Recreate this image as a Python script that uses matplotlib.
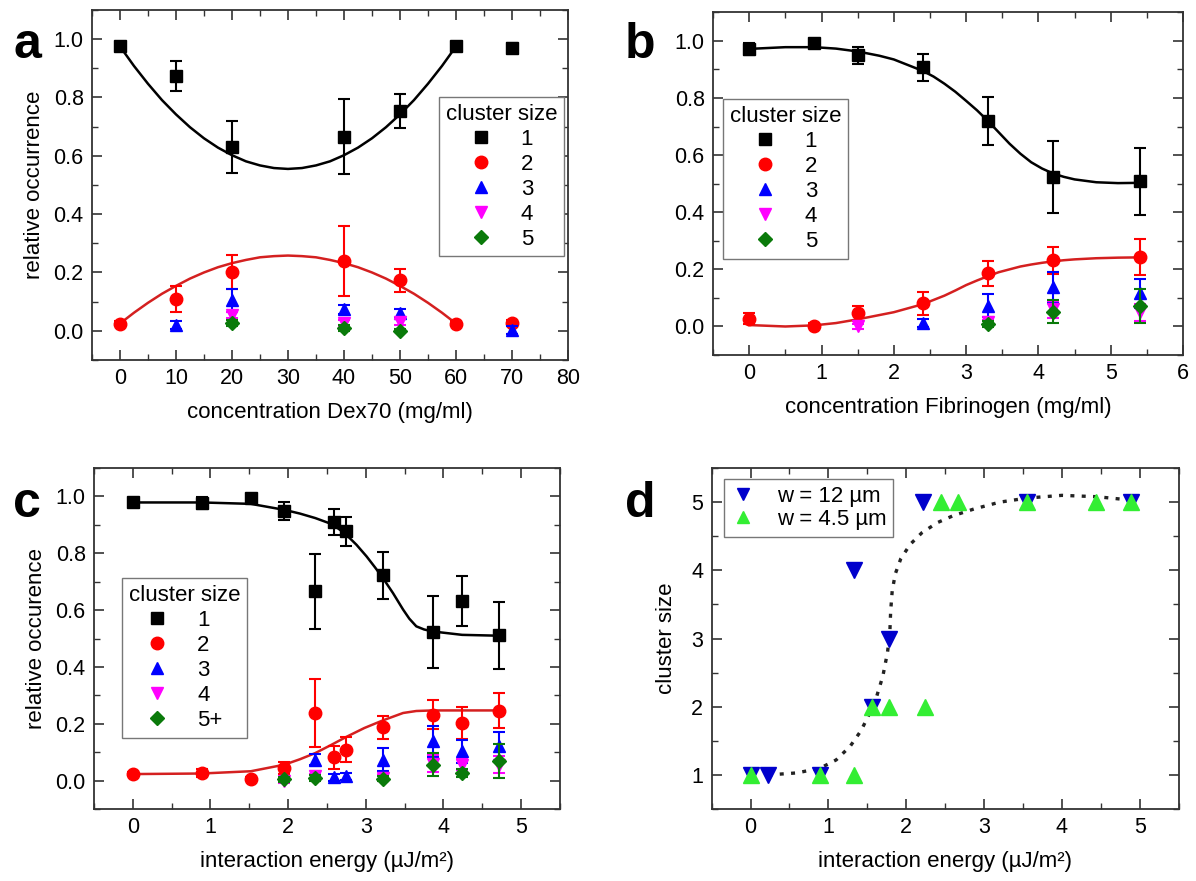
import numpy as np
import matplotlib.pyplot as plt
from matplotlib.ticker import MultipleLocator

plt.rcParams['font.family'] = ['Liberation Sans', 'DejaVu Sans']
plt.rcParams['axes.edgecolor'] = '#333333'
plt.rcParams['axes.linewidth'] = 1.3

#===== panel a: Dex70
dex_x1 = [0, 10, 20, 40, 50, 60, 70]
dex_y1 = [0.975, 0.874, 0.630, 0.666, 0.753, 0.975, 0.970]
dex_e1 = [0.01, 0.052, 0.088, 0.13, 0.058, 0.008, 0.015]
dex_x2 = [0, 10, 20, 40, 50, 60, 70]
dex_y2 = [0.024, 0.11, 0.201, 0.24, 0.173, 0.024, 0.026]
dex_e2 = [0.008, 0.045, 0.058, 0.12, 0.04, 0.008, 0.01]
dex_x3 = [10, 20, 40, 50, 70]
dex_y3 = [0.02, 0.104, 0.074, 0.06, 0.003]
dex_e3 = [0.015, 0.04, 0.015, 0.015, 0.015]
dex_x4 = [20, 40, 50]
dex_y4 = [0.055, 0.026, 0.029]
dex_e4 = [0.01, 0.012, 0.01]
dex_x5 = [20, 40, 50]
dex_y5 = [0.026, 0.011, 0.0]
dex_e5 = [0.01, 0.01, 0.005]
# fit curves
dex_fit_x = [0, 2.5, 5, 7.5, 10, 12.5, 15, 17.5, 20, 22.5, 25, 27.5, 30,
             32.5, 35, 37.5, 40, 42.5, 45, 47.5, 50, 52.5, 55, 57.5, 60]
dex_fit1 = [0.975, 0.908, 0.847, 0.791, 0.742, 0.698, 0.660, 0.628, 0.602, 0.581, 0.567, 0.558, 0.555,
            0.558, 0.567, 0.581, 0.602, 0.628, 0.660, 0.698, 0.742, 0.791, 0.847, 0.908, 0.975]
dex_fit2 = [0.025, 0.062, 0.096, 0.127, 0.154, 0.179, 0.200, 0.218, 0.232, 0.243, 0.252, 0.256, 0.258,
            0.256, 0.252, 0.243, 0.232, 0.218, 0.200, 0.179, 0.154, 0.127, 0.096, 0.062, 0.025]

#===== panel b: Fibrinogen
fib_x = [0, 0.9, 1.5, 2.4, 3.3, 4.2, 5.4]
fib_y1 = [0.972, 0.992, 0.949, 0.908, 0.719, 0.522, 0.508]
fib_e1 = [0.02, 0.01, 0.03, 0.047, 0.084, 0.126, 0.116]
fib_y2 = [0.027, 0.003, 0.046, 0.081, 0.186, 0.232, 0.244]
fib_e2 = [0.02, 0.008, 0.027, 0.04, 0.043, 0.048, 0.063]
fib_x3 = [2.4, 3.3, 4.2, 5.4]
fib_y3 = [0.012, 0.072, 0.137, 0.116]
fib_e3 = [0.015, 0.04, 0.055, 0.05]
fib_x4 = [1.5, 3.3, 4.2, 5.4]
fib_y4 = [0.0, 0.014, 0.06, 0.05]
fib_e4 = [0.01, 0.01, 0.03, 0.03]
fib_x5 = [3.3, 4.2, 5.4]
fib_y5 = [0.009, 0.052, 0.072]
fib_e5 = [0.01, 0.04, 0.06]
fib_fit_x = [0, 0.5, 0.9, 1.2, 1.5, 1.8, 2.0, 2.2, 2.4, 2.55, 2.7, 2.85, 3.0, 3.15, 3.3, 3.45,
             3.6, 3.75, 3.9, 4.05, 4.2, 4.35, 4.5, 4.8, 5.1, 5.4]
fib_fit1 = [0.972, 0.978, 0.978, 0.973, 0.963, 0.948, 0.935, 0.915, 0.895, 0.875, 0.85, 0.822,
            0.79, 0.757, 0.72, 0.68, 0.64, 0.605, 0.575, 0.553, 0.536, 0.524, 0.515, 0.505, 0.502, 0.503]
fib_fit2 = [0.005, 0.0, 0.004, 0.012, 0.025, 0.04, 0.05, 0.064, 0.078, 0.093, 0.108, 0.126,
            0.145, 0.161, 0.176, 0.19, 0.2, 0.21, 0.217, 0.223, 0.228, 0.232, 0.235, 0.239, 0.241, 0.242]

#===== panel c: interaction energy
ie_x = [0, 0.887, 1.52, 1.95, 2.35, 2.59, 2.75, 3.22, 3.86, 4.24, 4.71]
ie_y1 = [0.979, 0.977, 0.994, 0.95, 0.666, 0.91, 0.877, 0.722, 0.522, 0.631, 0.511]
ie_e1 = [0.01, 0.02, 0.01, 0.031, 0.131, 0.047, 0.052, 0.084, 0.127, 0.088, 0.117]
ie_y2 = [0.023, 0.027, 0.006, 0.045, 0.238, 0.082, 0.109, 0.188, 0.232, 0.203, 0.246]
ie_e2 = [0.008, 0.015, 0.008, 0.02, 0.12, 0.04, 0.045, 0.04, 0.05, 0.055, 0.062]
ie_x3 = [2.35, 2.59, 2.75, 3.22, 3.86, 4.24, 4.71]
ie_y3 = [0.074, 0.012, 0.015, 0.074, 0.138, 0.103, 0.121]
ie_e3 = [0.02, 0.012, 0.012, 0.04, 0.055, 0.04, 0.05]
ie_x4 = [1.95, 2.35, 3.22, 3.86, 4.24, 4.71]
ie_y4 = [0.0, 0.015, 0.009, 0.06, 0.056, 0.056]
ie_e4 = [0.01, 0.01, 0.01, 0.03, 0.02, 0.03]
ie_x5 = [1.95, 2.35, 3.22, 3.86, 4.24, 4.71]
ie_y5 = [0.004, 0.01, 0.007, 0.056, 0.027, 0.068]
ie_e5 = [0.008, 0.01, 0.01, 0.04, 0.015, 0.06]
ie_fit_x = [0, 0.887, 1.52, 1.95, 2.15, 2.35, 2.58, 2.75, 2.88, 3.01, 3.12, 3.22, 3.35, 3.48,
            3.56, 3.65, 3.75, 3.86, 4.24, 4.71]
ie_fit1 = [0.979, 0.979, 0.974, 0.953, 0.94, 0.924, 0.901, 0.865, 0.83, 0.789, 0.75, 0.713,
           0.66, 0.602, 0.57, 0.543, 0.532, 0.525, 0.513, 0.51]
ie_fit2_x = [0, 0.887, 1.52, 1.95, 2.15, 2.35, 2.55, 2.75, 2.98, 3.22, 3.48, 3.65, 3.86, 4.71]
ie_fit2 = [0.023, 0.025, 0.033, 0.056, 0.075, 0.097, 0.125, 0.154, 0.185, 0.212, 0.238, 0.245, 0.247, 0.247]

#===== panel d: cluster size
w12_x = [0, 0.22, 0.895, 1.33, 1.56, 1.78, 2.22, 3.55, 4.89]
w12_y = [1, 1, 1, 4, 2, 3, 5, 5, 5]
w45_x = [0, 0.895, 1.33, 1.56, 1.78, 2.24, 2.45, 2.67, 3.55, 4.44, 4.89]
w45_y = [1, 1, 1, 2, 2, 2, 5, 5, 5, 5, 5]
cs_fit_x = [0.23, 0.6, 0.895, 1.1, 1.28, 1.42, 1.52, 1.62, 1.7, 1.76, 1.79, 1.8, 1.82, 1.86, 1.93, 2.05, 2.2, 2.4, 2.6, 2.87, 3.2, 3.55, 4.0, 4.45, 4.89]
cs_fit = [1.0, 1.03, 1.1, 1.22, 1.42, 1.65, 1.88, 2.15, 2.45, 2.8, 3.1, 3.4, 3.7, 3.95, 4.17, 4.38, 4.55, 4.7, 4.8, 4.9, 5.0, 5.06, 5.1, 5.08, 5.03]

cl_labels = ['1', '2', '3', '4', '5']
cl_colors = ['black', '#ff0000', '#0000ff', '#ff00ff', '#0a7a0a']
cl_markers = ['s', 'o', '^', 'v', 'D']
cl_ms = [8, 9, 9, 9, 7]

FS_TICK = 15.5
FS_LAB = 16


def style_axes(ax, xmaj, xmin, ymaj, ymin):
    ax.xaxis.set_major_locator(MultipleLocator(xmaj))
    ax.xaxis.set_minor_locator(MultipleLocator(xmin))
    ax.yaxis.set_major_locator(MultipleLocator(ymaj))
    ax.yaxis.set_minor_locator(MultipleLocator(ymin))
    ax.tick_params(which='both', direction='in', top=True, right=True,
                   color='#333333', labelsize=FS_TICK)
    ax.tick_params(which='major', length=7, width=1.2, pad=6)
    ax.tick_params(which='minor', length=4, width=1.0)


def cluster_panel(ax, xs, ys, es, labels):
    handles = []
    for i in range(5):
        ax.errorbar(xs[i], ys[i], yerr=es[i], fmt='none', ecolor=cl_colors[i],
                    elinewidth=1.5, capsize=4, capthick=1.5, zorder=2 + i)
        h, = ax.plot(xs[i], ys[i], cl_markers[i], color=cl_colors[i], ms=cl_ms[i],
                     ls='none', label=labels[i], zorder=3 + i)
        handles.append(h)
    return handles


def cluster_legend(ax, handles, anchor):
    leg = ax.legend(handles=handles, title='cluster size', loc='upper left',
                    bbox_to_anchor=anchor, borderaxespad=0, fontsize=FS_LAB,
                    title_fontsize=FS_LAB, fancybox=False, edgecolor='#777777',
                    handlelength=1.0, handletextpad=1.3, labelspacing=0.18,
                    borderpad=0.3, framealpha=1)
    leg.get_frame().set_linewidth(1.0)


fig = plt.figure(figsize=(11.96, 8.81), dpi=100)

#===== a
ax = fig.add_axes([0.0769, 0.5914, 0.398, 0.3973])
ax.plot(dex_fit_x, dex_fit1, color='black', lw=1.8, zorder=1)
ax.plot(dex_fit_x, dex_fit2, color='#d42020', lw=1.8, zorder=1)
hs = cluster_panel(ax, [dex_x1, dex_x2, dex_x3, dex_x4, dex_x5],
                   [dex_y1, dex_y2, dex_y3, dex_y4, dex_y5],
                   [dex_e1, dex_e2, dex_e3, dex_e4, dex_e5], cl_labels)
ax.set_xlim(-5, 80)
ax.set_ylim(-0.1, 1.1)
style_axes(ax, 10, 5, 0.2, 0.1)
ax.yaxis.set_major_formatter(lambda v, p: '%.1f' % v)
ax.set_xlabel('concentration Dex70 (mg/ml)', fontsize=FS_LAB, labelpad=9)
ax.set_ylabel('relative occurrence', fontsize=FS_LAB, labelpad=6)
cluster_legend(ax, hs, (0.729, 0.751))

#===== b
ax = fig.add_axes([0.5962, 0.597, 0.393, 0.389])
ax.plot(fib_fit_x, fib_fit1, color='black', lw=1.8, zorder=1)
ax.plot(fib_fit_x, fib_fit2, color='#d42020', lw=1.8, zorder=1)
hs = cluster_panel(ax, [fib_x, fib_x, fib_x3, fib_x4, fib_x5],
                   [fib_y1, fib_y2, fib_y3, fib_y4, fib_y5],
                   [fib_e1, fib_e2, fib_e3, fib_e4, fib_e5], cl_labels)
ax.set_xlim(-0.5, 6)
ax.set_ylim(-0.1, 1.1)
style_axes(ax, 1, 0.5, 0.2, 0.1)
ax.yaxis.set_major_formatter(lambda v, p: '%.1f' % v)
ax.set_xlabel('concentration Fibrinogen (mg/ml)', fontsize=FS_LAB, labelpad=9)
cluster_legend(ax, hs, (0.021, 0.746))

#===== c
ax = fig.add_axes([0.0786, 0.0817, 0.3896, 0.387])
ax.plot(ie_fit_x, ie_fit1, color='black', lw=1.8, zorder=1)
ax.plot(ie_fit2_x, ie_fit2, color='#d42020', lw=1.8, zorder=1)
hs = cluster_panel(ax, [ie_x, ie_x, ie_x3, ie_x4, ie_x5],
                   [ie_y1, ie_y2, ie_y3, ie_y4, ie_y5],
                   [ie_e1, ie_e2, ie_e3, ie_e4, ie_e5],
                   ['1', '2', '3', '4', '5+'])
ax.set_xlim(-0.5, 5.5)
ax.set_ylim(-0.1, 1.1)
style_axes(ax, 1, 0.5, 0.2, 0.1)
ax.yaxis.set_major_formatter(lambda v, p: '%.1f' % v)
ax.set_xlabel('interaction energy (µJ/m²)', fontsize=FS_LAB, labelpad=9)
ax.set_ylabel('relative occurence', fontsize=FS_LAB, labelpad=6)
cluster_legend(ax, hs, (0.06, 0.677))

#===== d
ax = fig.add_axes([0.595, 0.0817, 0.3905, 0.387])
ax.plot(cs_fit_x, cs_fit, color='#222222', lw=2.4, ls=(0, (1.2, 2.2)), zorder=1)
ax.plot(w12_x, w12_y, 'v', color='#0000cc', ms=11, ls='none', label='w = 12 µm', zorder=3)
ax.plot(w45_x, w45_y, '^', color='#33ee33', ms=11, ls='none', label='w = 4.5 µm', zorder=4)
ax.set_xlim(-0.5, 5.5)
ax.set_ylim(0.5, 5.5)
style_axes(ax, 1, 0.5, 1, 0.5)
ax.set_xlabel('interaction energy (µJ/m²)', fontsize=FS_LAB, labelpad=9)
ax.set_ylabel('cluster size', fontsize=FS_LAB, labelpad=10)
leg = ax.legend(loc='upper left', bbox_to_anchor=(0.026, 0.968), borderaxespad=0,
                fontsize=FS_LAB, fancybox=False, edgecolor='#777777',
                handlelength=1.1, handletextpad=1.0, labelspacing=0.1,
                borderpad=0.3, framealpha=1, markerscale=0.85)
leg.get_frame().set_linewidth(1.0)

#===== panel letters
for lab, px, py in [('a', 27, 58), ('b', 640, 58), ('c', 27, 517), ('d', 640, 517)]:
    fig.text(px / 1196, 1 - py / 881, lab, fontsize=36, fontweight='bold',
             ha='center', va='baseline')

fig.savefig('out.png', dpi=100)
